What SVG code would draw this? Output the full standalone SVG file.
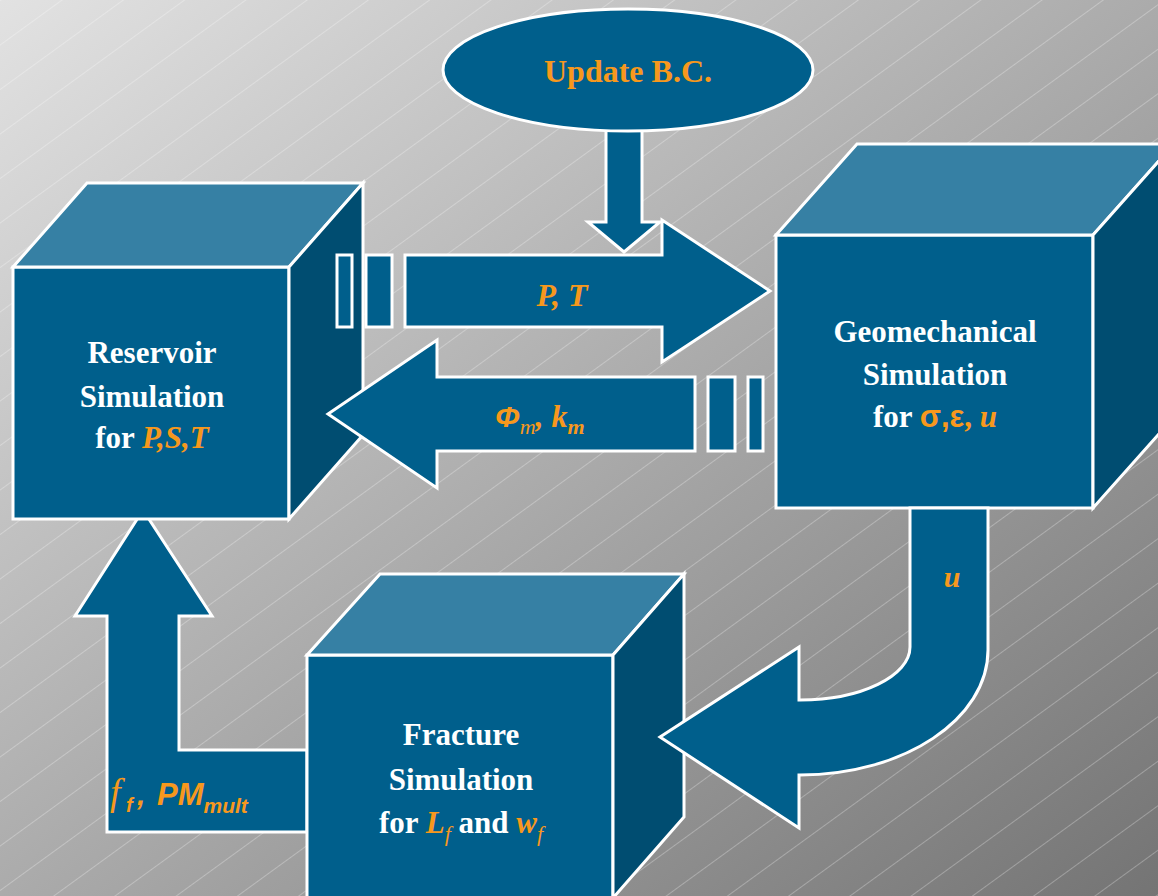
<svg xmlns="http://www.w3.org/2000/svg" width="1158" height="896" viewBox="0 0 1158 896">
<defs>
<linearGradient id="bg" x1="0" y1="0" x2="1" y2="1">
<stop offset="0" stop-color="#e2e2e2"/>
<stop offset="1" stop-color="#747474"/>
</linearGradient>
<pattern id="hatch" patternUnits="userSpaceOnUse" width="20" height="36" patternTransform="rotate(-36)">
<line x1="0" y1="0.5" x2="20" y2="0.5" stroke="#ffffff" stroke-opacity="0.28" stroke-width="1"/>
</pattern>
<style>
.sh{stroke:#ffffff;stroke-width:3;stroke-linejoin:miter}
.front{fill:#005f8c}
.top{fill:#3680a4}
.side{fill:#004d71}
.arr{fill:#005f8c;stroke:#ffffff;stroke-width:3;stroke-linejoin:miter}
.lbl{font-family:"Liberation Serif","Times New Roman",serif;font-weight:bold;font-size:31px;fill:#ffffff;text-anchor:middle}
.or{fill:#f7981d}
.it{font-style:italic}
.sans{font-family:"Liberation Sans",Arial,sans-serif}
</style>
</defs>
<rect width="1158" height="896" fill="url(#bg)"/>
<rect width="1158" height="896" fill="url(#hatch)"/>

<g id="connectors">
<path id="arrow-fracture-to-reservoir" class="arr" d="M107,832 L107,616 L75,616 L143,510 L212,616 L179,616 L179,750 L307,750 L307,832 Z"/>
<path id="arrow-update-down" class="arr" d="M606,128 L642,128 L642,222 L660,222 L624,252 L588,222 L606,222 Z"/>
</g>

<g id="node-reservoir">
<rect class="front sh" x="13" y="267" width="276" height="252"/>
<polygon class="top sh" points="13,267 87,183 363,183 289,267"/>
<polygon class="side sh" points="289,267 363,183 363,435 289,519"/>
<text class="lbl" x="152" y="363">Reservoir</text>
<text class="lbl" x="152" y="407">Simulation</text>
<text class="lbl" x="152" y="448">for <tspan class="or it">P,S,T</tspan></text>
</g>

<g id="node-geomechanical">
<rect class="front sh" x="776" y="235" width="317" height="273"/>
<polygon class="top sh" points="776,235 857,144 1174,144 1093,235"/>
<polygon class="side sh" points="1093,235 1174,144 1174,417 1093,508"/>
<text class="lbl" x="935" y="342">Geomechanical</text>
<text class="lbl" x="935" y="385">Simulation</text>
<text class="lbl" x="935" y="427">for <tspan class="or sans">σ,ε</tspan><tspan class="or">, </tspan><tspan class="or it">u</tspan></text>
</g>

<g id="node-fracture">
<rect class="front sh" x="307" y="655" width="306" height="243"/>
<polygon class="top sh" points="307,655 380,574 684,574 613,655"/>
<polygon class="side sh" points="613,655 684,574 684,817 613,898"/>
<text class="lbl" x="461" y="745">Fracture</text>
<text class="lbl" x="461" y="790">Simulation</text>
<text class="lbl" x="461" y="833">for <tspan class="or it">L</tspan><tspan class="or it" font-weight="normal" font-size="22" dy="8">f</tspan><tspan dy="-8"> and </tspan><tspan class="or it">w</tspan><tspan class="or it" font-weight="normal" font-size="22" dy="8">f</tspan></text>
</g>

<g id="node-update-bc">
<ellipse cx="628" cy="70" rx="185" ry="61" class="front sh"/>
<text x="628" y="82" font-family="Liberation Serif, serif" font-weight="bold" font-size="32" fill="#f7981d" text-anchor="middle">Update B.C.</text>
</g>

<g id="connectors-top">
<path id="arrow-u" class="arr" d="M910,508 L910,647 C910,676 861,700 800,700 L799,700 L799,647 L660,737 L799,828 L799,775 L800,775 C904,775 988,719 988,650 L988,508 Z"/>
<text x="952" y="587" font-family="Liberation Serif, serif" font-weight="bold" font-style="italic" font-size="30" fill="#f7981d" text-anchor="middle">u</text>

<path id="arrow-PT" class="arr" d="M405,255 L662,255 L662,220 L770,291 L662,362 L662,327 L405,327 Z"/>
<rect class="arr" x="337" y="255" width="15" height="72"/>
<rect class="arr" x="366" y="255" width="26" height="72"/>
<text x="562" y="306" font-family="Liberation Serif, serif" font-weight="bold" font-style="italic" font-size="32" fill="#f7981d" text-anchor="middle">P, T</text>

<path id="arrow-phi-k" class="arr" d="M695,377 L437,377 L437,340 L328,414 L437,488 L437,451 L695,451 Z"/>
<rect class="arr" x="708" y="377" width="27" height="74"/>
<rect class="arr" x="748" y="377" width="15" height="74"/>
<text x="495" y="427" font-family="Liberation Serif, serif" font-weight="bold" font-style="italic" font-size="32" fill="#f7981d"><tspan font-family="Liberation Sans, sans-serif" font-size="30">Φ</tspan><tspan font-size="22" font-weight="normal" dy="7">m</tspan><tspan dy="-7">, k</tspan><tspan font-size="22" dy="7">m</tspan></text>

<text y="805" font-family="Liberation Serif, serif" font-style="italic" font-size="38" fill="#f7981d"><tspan x="110">f</tspan><tspan x="126" font-family="Liberation Sans, sans-serif" font-weight="bold" font-size="20" dy="7">f</tspan><tspan x="137" font-family="Liberation Sans, sans-serif" font-weight="bold" font-size="30" dy="-7">,</tspan><tspan x="157" font-family="Liberation Sans, sans-serif" font-weight="bold" font-size="31">PM</tspan><tspan font-family="Liberation Sans, sans-serif" font-weight="bold" font-size="21" dy="8">mult</tspan></text>
</g>
</svg>
